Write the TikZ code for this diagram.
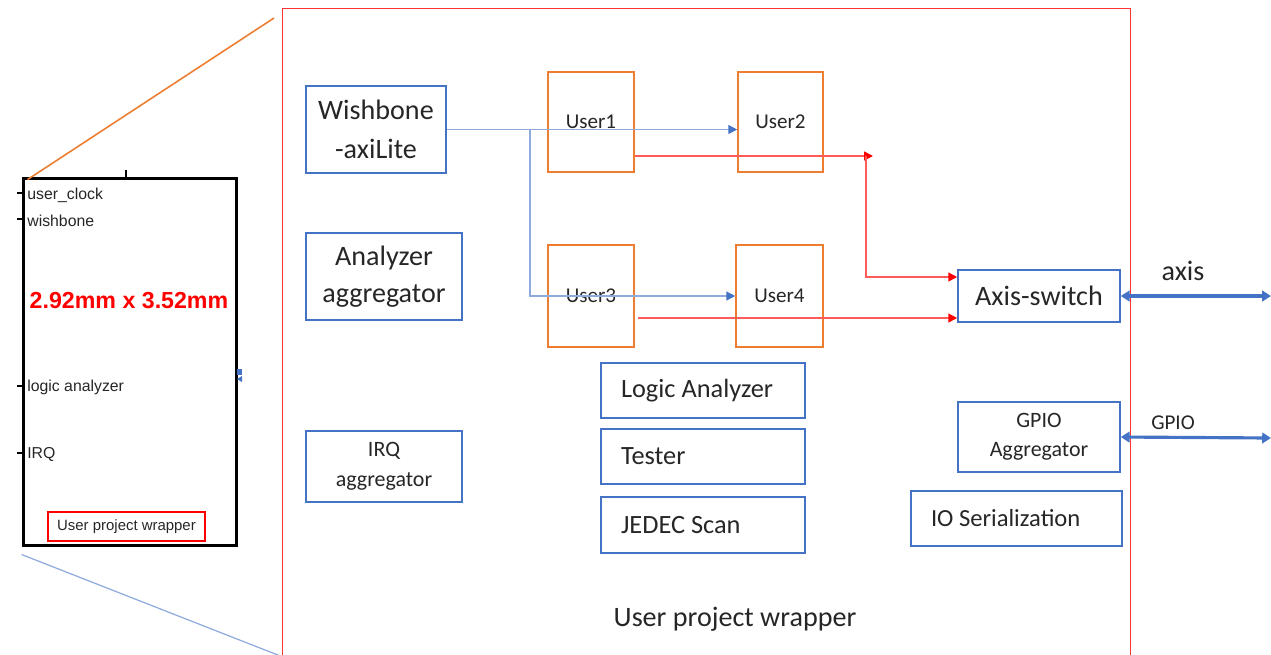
\documentclass[tikz,border=0pt]{standalone}
\usepackage{fontspec}
\setmainfont{Carlito}
\newfontfamily\arialfont{Liberation Sans}
\usepackage{tikz}
\usetikzlibrary{arrows.meta}
\usetikzlibrary{positioning}
\usepackage{xcolor}
\definecolor{boxblue}{HTML}{4472C4}
\definecolor{usrorange}{HTML}{ED7D31}
\definecolor{linkblue}{HTML}{8FAADC}
\definecolor{linkred}{HTML}{FF5B5B}
\definecolor{txtgray}{HTML}{262626}

\tikzset{
    blubox/.style={draw=boxblue, line width=0.9pt, inner sep=0pt, align=center, text=txtgray},
    usrbox/.style={draw=usrorange, line width=0.9pt, inner sep=0pt, minimum height=20mm,
        text=txtgray, font=\fontsize{12}{14}\selectfont},
    midbox/.style={draw=boxblue, line width=1.4pt, minimum height=11mm, inner xsep=4mm,
        inner ysep=0pt, align=flush left, text=txtgray},
    bluelink/.style={draw=linkblue, line width=0.8pt, -{Triangle[length=5pt,width=5pt,color=boxblue]}},
    redlink/.style={draw=linkred, line width=0.8pt},
    redarrow/.style={redlink, -{Triangle[length=5pt,width=5pt,color=red]}},
    bus/.style={draw=boxblue, line width=1.8pt,
        {Triangle[length=5pt,width=6pt]}-{Triangle[length=5pt,width=6pt]}},
    chiplbl/.style={anchor=west, inner sep=0pt, text=txtgray, font=\arialfont\fontsize{9}{10}\selectfont},
}

\begin{document}
\begin{tikzpicture}[x=0.02cm,y=-0.02cm]
    \useasboundingbox (0,0) rectangle (1271,654);

    % zoomed-in wrapper
    \node[draw=red!80, line width=0.6pt, inner sep=0pt,
        minimum width=169.8mm, minimum height=129.6mm] (frame) at (706.5,332) {};

    % chip outline on the left
    \node[draw=black, line width=1.7pt, inner sep=0pt,
        minimum width=42.8mm, minimum height=73.6mm] (chip) at (130,362) {};
    \node[chiplbl] (clk) at (27,195) {user\_clock};
    \node[chiplbl] (wbl) at (27,221) {wishbone};
    \node[chiplbl] (lal) at (27,387) {logic analyzer};
    \node[chiplbl] (irql) at (27,454) {IRQ};
    \node[text=red, font=\arialfont\bfseries\fontsize{13.2}{15}\selectfont] (dims) at (129,301) {2.92mm x 3.52mm};
    \node[draw=red, line width=1.4pt, inner sep=0pt, minimum width=31.4mm, minimum height=5.8mm,
        text=txtgray, font=\arialfont\fontsize{8.5}{10}\selectfont] (cupw) at (126.5,526.5) {User project wrapper};
    \foreach \py in {193,219,386,453}
        \draw[line width=0.6pt] (chip.west |- 0,\py) -- ++(-5,0);
    \draw[line width=0.6pt] (126,178) -- (126,170);
    \fill[boxblue] (237,369) rectangle (242,375);
    \fill[boxblue] (242,376) -- (242,382) -- (237,379) -- cycle;

    % zoom lines
    \coordinate (ztop) at (274,18);
    \draw[usrorange, line width=0.9pt] ([shift={(6,3)}]chip.north west) -- (ztop);
    \draw[linkblue, line width=0.7pt] ([yshift=-4pt]chip.south west) -- (frame.south west);

    % blocks
    \node[blubox, minimum width=28mm, minimum height=17.4mm, font=\fontsize{16}{22}\selectfont]
        (wb) at (376,129.5) {Wishbone\\-axiLite};
    \node[blubox, minimum width=31.2mm, minimum height=17.4mm, font=\fontsize{16}{21}\selectfont]
        (anl) at (384,276.5) {Analyzer\\aggregator};
    \node[blubox, minimum width=31.2mm, minimum height=14.2mm, font=\fontsize{12.5}{17}\selectfont]
        (irq) at (384,466.5) {IRQ\\aggregator};

    \node[usrbox, minimum width=17.2mm] (u1) at (591,122) {\raisebox{-2pt}{User1}};
    \node[usrbox, minimum width=17mm] (u2) at (780.5,122) {\raisebox{-2pt}{User2}};
    \node[usrbox, minimum width=17.2mm, minimum height=20.4mm] (u3) at (591,296) {User3};
    \node[usrbox, minimum width=17.4mm, minimum height=20.4mm] (u4) at (779.5,296) {User4};

    \node[blubox, minimum width=32.4mm, minimum height=10.4mm, font=\fontsize{16}{19}\selectfont]
        (sw) at (1039,296) {Axis-switch};
    \node[blubox, minimum width=32.4mm, minimum height=14mm, font=\fontsize{12.5}{16.5}\selectfont]
        (gpio) at (1039,437) {GPIO\\Aggregator};

    \node[midbox, text width=32.8mm, font=\fontsize{15}{18}\selectfont] (la) at (703,390.5) {Logic Analyzer};
    \node[midbox, text width=32.8mm, font=\fontsize{15}{18}\selectfont] (tst) at (703,456.5) {Tester};
    \node[midbox, text width=32.8mm, minimum height=11.2mm, font=\fontsize{15}{18}\selectfont] (jed) at (703,525) {JEDEC Scan};
    \node[midbox, text width=34.2mm, font=\fontsize{14}{17}\selectfont] (ios) at (1016.5,518.5) {IO Serialization};

    % wishbone fan-out
    \draw[bluelink] (wb.east) -- (wb.east -| u2.west);
    \draw[bluelink] (530,129.5) |- (u4.west);

    % stream paths to the switch
    \coordinate (rtip) at (873,156);
    \draw[redarrow] (u1.east |- rtip) -- (rtip);
    \draw[redarrow] (866,156) |- (sw.west |- 0,277);
    \draw[redarrow] (638,318) -- (sw.west |- 0,318);

    % external ports
    \coordinate (axend) at (1271,296);
    \coordinate (gpend) at (1271,438);
    \draw[bus] (sw.east) -- (axend);
    \draw[bus] (gpio.east) -- (gpend);
    \node[text=txtgray, font=\fontsize{16}{19}\selectfont] (axl) at (1183,271) {axis};
    \node[text=txtgray, font=\fontsize{12}{14}\selectfont] (gpl) at (1173,423) {GPIO};

    \node[text=txtgray, font=\fontsize{16}{19}\selectfont] (upw) at (735,619) {User project wrapper};
\end{tikzpicture}
\end{document}
